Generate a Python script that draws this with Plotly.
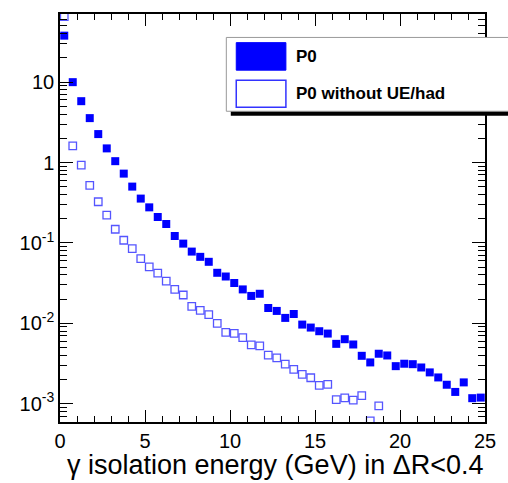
import plotly.graph_objects as go

# Bin centres (GeV), 0.5 GeV bins
energy = [0.25 + 0.5 * i for i in range(50)]

# P0: full isolation energy distribution
p0 = [37.9, 10.0, 5.8, 3.57, 2.26, 1.50, 1.04, 0.728, 0.502, 0.356,
      0.277, 0.210, 0.172, 0.122, 0.098, 0.078, 0.0671, 0.0582, 0.0425, 0.0382,
      0.0317, 0.0264, 0.0219, 0.0233, 0.0155, 0.01425, 0.01167, 0.01306, 0.00964, 0.00885,
      0.00797, 0.00745, 0.00555, 0.00634, 0.00545, 0.00394, 0.00326, 0.00418, 0.00398, 0.00293,
      0.00314, 0.00310, 0.00282, 0.00245, 0.00212, 0.00172, 0.00140, 0.00184, 0.00117, 0.00119]

# P0 without underlying event / hadronisation (empty bins above 19 GeV)
p0_noue = [65.3, 1.61, 0.93, 0.519, 0.325, 0.222, 0.148, 0.108, 0.085, 0.0638,
           0.0504, 0.0421, 0.0335, 0.0264, 0.0225, 0.01625, 0.01449, 0.01282, 0.0100, 0.00773,
           0.00751, 0.00665, 0.00540, 0.00525, 0.00401, 0.00372, 0.00310, 0.00267, 0.00231, 0.00210,
           0.00169, 0.00174, 0.00112, 0.00118, 0.00111, 0.00126, 0.00061, 0.00094]

x_ticks = [0, 5, 10, 15, 20, 25]
y_ticks = [1e-3, 1e-2, 1e-1, 1, 10]
y_tick_text = ["10<sup>-3</sup>", "10<sup>-2</sup>", "10<sup>-1</sup>", "1", "10"]
y_minor = [m * 10.0 ** d for d in range(-4, 2) for m in range(2, 10)]

FONT = "Liberation Sans, Arial, Helvetica, sans-serif"
BLUE = "#0000ff"
LIGHT_BLUE = "#5555ff"

fig = go.Figure()
fig.add_trace(go.Scatter(
    x=energy, y=p0, mode="markers", name="P0",
    marker=dict(symbol="square", size=8, color=BLUE, line=dict(width=0)),
))
fig.add_trace(go.Scatter(
    x=energy[:len(p0_noue)], y=p0_noue, mode="markers", name="P0 without UE/had",
    marker=dict(symbol="square-open", size=7.5, color=LIGHT_BLUE, line=dict(width=1.3)),
))

W, H = 508, 483
L, R, T, B = 60, 20, 13, 61
pw, ph = W - L - R, H - T - B


def px(xp):
    return (xp - L) / pw


def py(yp):
    return (H - B - yp) / ph


shapes = [
    # legend shadow
    dict(type="rect", xref="paper", yref="paper", x0=px(232), x1=px(520), y0=py(115), y1=py(108),
         fillcolor="black", line=dict(width=0), layer="above"),
    # legend box
    dict(type="rect", xref="paper", yref="paper", x0=px(227.5), x1=px(520), y0=py(110.5), y1=py(36.5),
         fillcolor="white", line=dict(color="#999999", width=1), layer="above"),
    # filled swatch
    dict(type="rect", xref="paper", yref="paper", x0=px(237.5), x1=px(287.5), y0=py(69.3), y1=py(41.7),
         fillcolor=BLUE, line=dict(color=BLUE, width=1), layer="above"),
    # open swatch
    dict(type="rect", xref="paper", yref="paper", x0=px(237.5), x1=px(287.5), y0=py(106.5), y1=py(79.5),
         fillcolor="white", line=dict(color="#3333ff", width=1.5), layer="above"),
]

annotations = [
    dict(text="<b>P0</b>", xref="paper", yref="paper", x=px(296), y=py(55.5),
         xanchor="left", yanchor="middle", showarrow=False,
         font=dict(family=FONT, size=17, color="black")),
    dict(text="<b>P0 without UE/had</b>", xref="paper", yref="paper", x=px(296), y=py(93),
         xanchor="left", yanchor="middle", showarrow=False,
         font=dict(family=FONT, size=17, color="black")),
    dict(text="\u03b3 isolation energy (GeV) in \u0394R<0.4", xref="paper", yref="paper",
         x=1, y=py(465), xanchor="right", yanchor="middle", showarrow=False,
         font=dict(family=FONT, size=27, color="black")),
]

fig.update_layout(
    width=W, height=H,
    margin=dict(l=L, r=R, t=T, b=B, pad=0),
    paper_bgcolor="white", plot_bgcolor="white",
    showlegend=False,
    font=dict(family=FONT, color="black"),
    shapes=shapes,
    annotations=annotations,
)

fig.update_xaxes(
    range=[0, 25], tickvals=x_ticks, ticks="inside", ticklen=12, tickwidth=1, tickcolor="black",
    minor=dict(dtick=1, ticks="inside", ticklen=6, tickwidth=1, tickcolor="black"),
    showline=True, linecolor="black", linewidth=1.5, mirror="allticks",
    showgrid=False, zeroline=False,
    tickfont=dict(family=FONT, size=20, color="black"),
)
fig.update_yaxes(
    type="log", range=[-3.228, 1.848],
    tickvals=y_ticks, ticktext=y_tick_text,
    ticks="inside", ticklen=13, tickwidth=1, tickcolor="black",
    minor=dict(tickvals=y_minor, ticks="inside", ticklen=7, tickwidth=1, tickcolor="black"),
    showline=True, linecolor="black", linewidth=1.5, mirror="allticks",
    showgrid=False, zeroline=False,
    tickfont=dict(family=FONT, size=20, color="black"),
)

fig.write_html("out.html")
